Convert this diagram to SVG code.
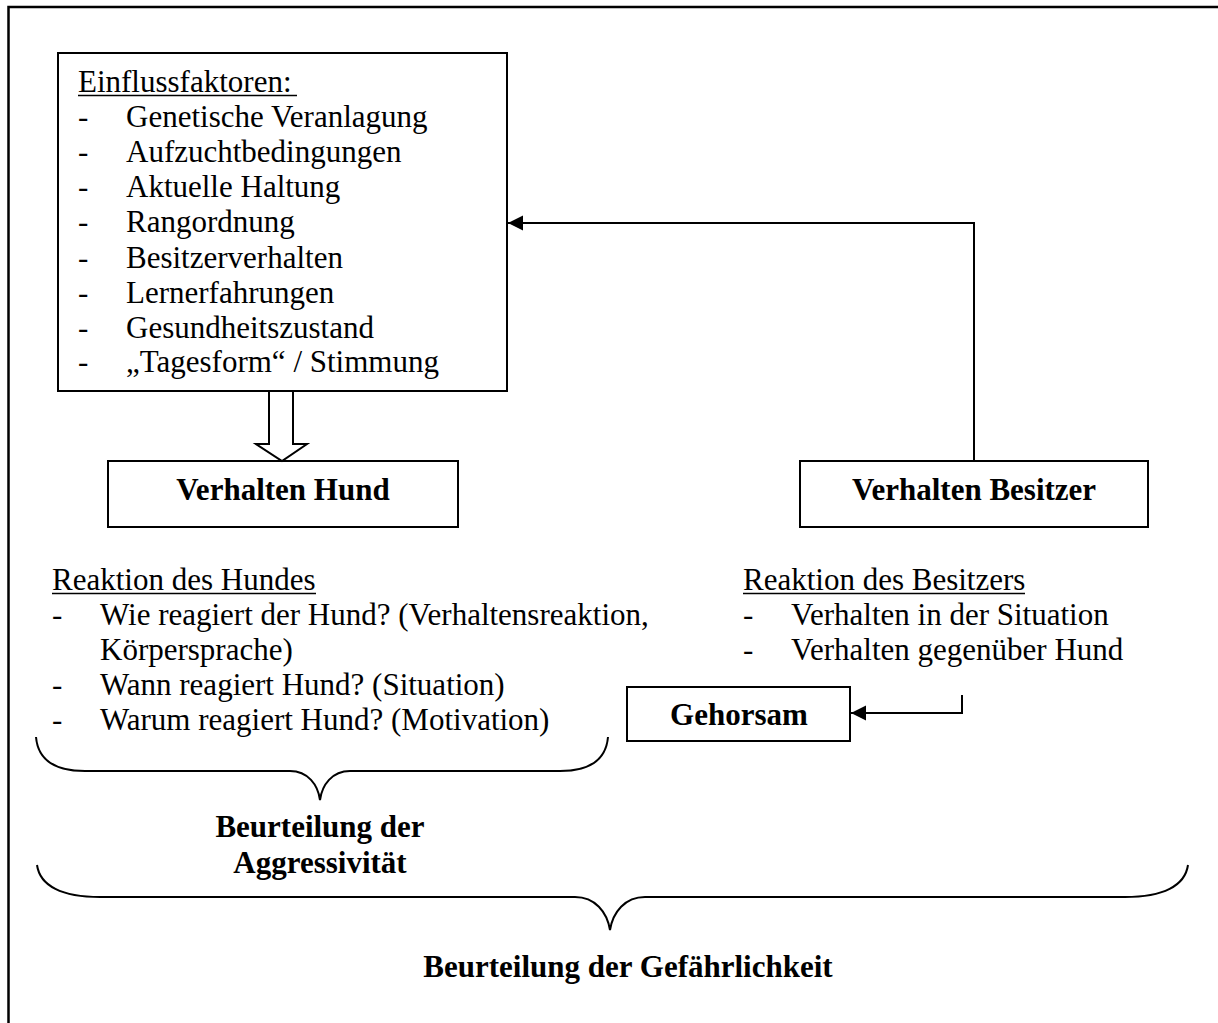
<svg xmlns="http://www.w3.org/2000/svg" width="1218" height="1023" viewBox="0 0 1218 1023">
<style>
text{font-family:"Liberation Serif","Times New Roman",serif;font-size:31px;fill:#000}
.b{font-weight:bold}
.box{fill:#fff;stroke:#000;stroke-width:2}
.ln{fill:none;stroke:#000;stroke-width:2}
.ul{stroke:#000;stroke-width:1.5}
</style>
<defs>
<marker id="ah" markerWidth="16" markerHeight="16" refX="15" refY="7.5" orient="auto" markerUnits="userSpaceOnUse">
<path d="M0,0 L15,7.5 L0,15 Z" fill="#000"/>
</marker>
</defs>
<rect width="1218" height="1023" fill="#fff"/>
<path d="M8.5,1030 V7 H1230" fill="none" stroke="#000" stroke-width="2.5"/>

<g id="einflussfaktoren">
<rect class="box" x="58" y="53" width="449" height="338"/>
<text x="78" y="92">Einflussfaktoren:</text>
<line class="ul" x1="78" y1="95.5" x2="297" y2="95.5"/>
<text x="78" y="127">-</text><text x="126" y="127">Genetische Veranlagung</text>
<text x="78" y="162">-</text><text x="126" y="162">Aufzuchtbedingungen</text>
<text x="78" y="197">-</text><text x="126" y="197">Aktuelle Haltung</text>
<text x="78" y="232">-</text><text x="126" y="232">Rangordnung</text>
<text x="78" y="268">-</text><text x="126" y="268">Besitzerverhalten</text>
<text x="78" y="303">-</text><text x="126" y="303">Lernerfahrungen</text>
<text x="78" y="338">-</text><text x="126" y="338">Gesundheitszustand</text>
<text x="78" y="372">-</text><text x="126" y="372">„Tagesform“ / Stimmung</text>
</g>

<g id="verhalten-hund">
<rect class="box" x="108" y="461" width="350" height="66"/>
<text class="b" x="283" y="500" text-anchor="middle">Verhalten Hund</text>
</g>

<g id="verhalten-besitzer">
<rect class="box" x="800" y="461" width="348" height="66"/>
<text class="b" x="974" y="500" text-anchor="middle">Verhalten Besitzer</text>
</g>

<g id="gehorsam">
<rect class="box" x="627" y="687" width="223" height="54"/>
<text class="b" x="739" y="725" text-anchor="middle">Gehorsam</text>
</g>

<g id="reaktion-hund">
<text x="52" y="590">Reaktion des Hundes</text>
<line class="ul" x1="52" y1="593.5" x2="316" y2="593.5"/>
<text x="52" y="625">-</text><text x="100" y="625">Wie reagiert der Hund? (Verhaltensreaktion,</text>
<text x="100" y="660">Körpersprache)</text>
<text x="52" y="695">-</text><text x="100" y="695">Wann reagiert Hund? (Situation)</text>
<text x="52" y="730">-</text><text x="100" y="730">Warum reagiert Hund? (Motivation)</text>
</g>

<g id="reaktion-besitzer">
<text x="743" y="590">Reaktion des Besitzers</text>
<line class="ul" x1="743" y1="593.5" x2="1025" y2="593.5"/>
<text x="743" y="625">-</text><text x="791" y="625">Verhalten in der Situation</text>
<text x="743" y="660">-</text><text x="791" y="660">Verhalten gegenüber Hund</text>
</g>

<g id="beurteilung-aggressivitaet">
<text class="b" x="320" y="837" text-anchor="middle">Beurteilung der</text>
<text class="b" x="320" y="873" text-anchor="middle">Aggressivität</text>
</g>

<g id="beurteilung-gefaehrlichkeit">
<text class="b" x="628" y="977" text-anchor="middle">Beurteilung der Gefährlichkeit</text>
</g>

<g id="connectors">
<polygon points="269,391 293,391 293,444 307,444 282,461 256,444 269,444" fill="#fff" stroke="#000" stroke-width="2"/>
<polyline class="ln" points="974,461 974,223 508,223" marker-end="url(#ah)"/>
<polyline class="ln" points="962,695 962,713 851,713" marker-end="url(#ah)"/>
<path class="ln" d="M36,737 C38,760 55,771 85,771 L290,771 C308,771 318,785 320,800 C322,785 332,771 350,771 L560,771 C590,771 606,760 608,737"/>
<path class="ln" d="M37,865 C40,886 62,897 100,897 L575,897 C595,897 607,912 610,930 C613,912 625,897 645,897 L1125,897 C1163,897 1185,886 1188,865"/>
</g>
</svg>
